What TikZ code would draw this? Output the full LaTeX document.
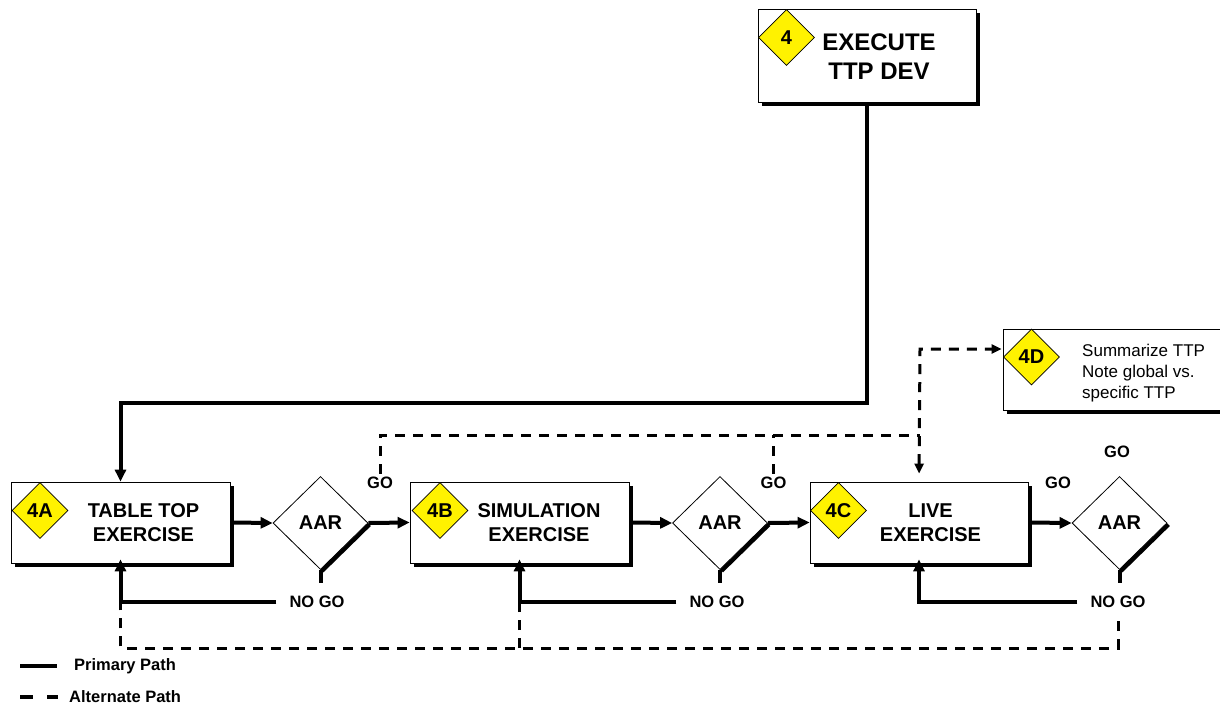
\documentclass[tikz,border=0pt]{standalone}
\usepackage{fontspec}
\setmainfont{Liberation Sans}
\usepackage{tikz}
\usetikzlibrary{shapes.geometric,arrows.meta,positioning,shadows}
\tikzset
{
    stepbox/.style   = {rectangle, draw=black, line width=0.8pt, fill=white, inner sep=0pt, drop shadow={shadow xshift=4pt, shadow yshift=-4pt, fill=black, opacity=1}},
    keynode/.style   = {diamond, draw=black, line width=0.8pt, fill=yellow, inner sep=0pt, minimum size=56pt, font=\fontsize{20}{24}\selectfont\bfseries},
    aarnode/.style   = {diamond, draw=black, line width=0.8pt, fill=white, inner sep=0pt, minimum width=95pt, minimum height=93pt, font=\fontsize{20}{24}\selectfont\bfseries, drop shadow={shadow xshift=3pt, shadow yshift=-3pt, fill=black, opacity=1}},
    steptext/.style  = {align=center, inner sep=0pt, font=\fontsize{20}{24}\selectfont\bfseries},
    notetext/.style  = {align=left, inner sep=0pt, font=\fontsize{17}{21}\selectfont},
    golabel/.style   = {inner sep=3pt, font=\fontsize{16.5}{19}\selectfont\bfseries},
    nogolabel/.style = {inner sep=13pt, font=\fontsize{16.5}{19}\selectfont\bfseries},
    legendtext/.style = {inner sep=0pt, font=\fontsize{16.5}{19}\selectfont\bfseries},
    primarypath/.style = {line width=4pt, >={Triangle[length=12pt,width=11pt]}},
    altpath/.style   = {line width=3pt, dash pattern=on 10pt off 8pt, >={Triangle[length=10pt,width=9pt]}}
}

\begin{document}
\begin{tikzpicture}[x=1pt, y=-1pt]
	\useasboundingbox (0,0) rectangle (1220,706);
	% boxes
	\node[stepbox, minimum width=218pt, minimum height=93pt] (dev) at (867,55.5) {};
	\node[stepbox, minimum width=219pt, minimum height=81pt] (tabletop) at (120.5,522.5) {};
	\node[stepbox, minimum width=219pt, minimum height=81pt] (simulation) at (519.5,522.5) {};
	\node[stepbox, minimum width=218pt, minimum height=81pt] (live) at (919,522.5) {};
	\node[stepbox, minimum width=222pt, minimum height=81pt] (summary) at (1114,369.5) {};
	% box texts
	\node[steptext, font=\fontsize{24}{29}\selectfont\bfseries] (devtxt) at (879,57) {EXECUTE\\TTP DEV};
	\node[steptext] (tabletoptxt) at (143.5,523) {TABLE TOP\\EXERCISE};
	\node[steptext] (simulationtxt) at (539,523) {SIMULATION\\EXERCISE};
	\node[steptext] (livetxt) at (930.5,523) {LIVE\\EXERCISE};
	\node[notetext, anchor=west] (summarytxt) at (1082,373) {Summarize TTP\\Note global vs.\\specific TTP};
	% step keys
	\node[keynode] (keydev) at (786.5,37.5) {4};
	\node[keynode] (keya) at (40,510.5) {4A};
	\node[keynode] (keyb) at (440,510.5) {4B};
	\node[keynode] (keyc) at (838.5,510.5) {4C};
	\node[keynode] (keyd) at (1031.5,357) {4D};
	% reviews
	\node[aarnode] (aarone) at (320.5,523) {AAR};
	\node[aarnode] (aartwo) at (720,523) {AAR};
	\node[aarnode] (aarthree) at (1119.5,523) {AAR};
	% labels
	\node[golabel] (goone) at (380,483) {GO};
	\node[golabel] (gotwo) at (773.5,483) {GO};
	\node[golabel] (gothree) at (1058,483) {GO};
	\node[golabel] (gofour) at (1117,452) {GO};
	\node[nogolabel] (nogoone) at (317,602) {NO GO};
	\node[nogolabel] (nogotwo) at (717,602) {NO GO};
	\node[nogolabel] (nogothree) at (1118,602) {NO GO};
	% helper points
	\coordinate (bend) at (0,403);
	\coordinate (altjoin) at (920,435);
	\coordinate (altsplit) at (920,349);
	\coordinate (altbase) at (0,648);
	% primary path
	\draw[primarypath,->] (dev.south) -- (dev.south |- bend) -| (tabletop.north);
	\draw[primarypath,->] (tabletop.east) -- (aarone.west);
	\draw[primarypath,->] (aarone.east) -- (simulation.west);
	\draw[primarypath,->] (simulation.east) -- (aartwo.west);
	\draw[primarypath,->] (aartwo.east) -- (live.west);
	\draw[primarypath,->] (live.east) -- (aarthree.west);
	\draw[primarypath] (aarone.south) -- (aarone.south |- nogoone.north);
	\draw[primarypath] (aartwo.south) -- (aartwo.south |- nogotwo.north);
	\draw[primarypath] (aarthree.south) -- (aarthree.south |- nogothree.north);
	\draw[primarypath,->,shorten >=-4pt] (nogoone.west) -| (tabletop.south);
	\draw[primarypath,->,shorten >=-4pt] (nogotwo.west) -| (simulation.south);
	\draw[primarypath,->,shorten >=-4pt] (nogothree.west) -| (live.south);
	% alternate path
	\draw[altpath] (goone.north) |- (altjoin);
	\draw[altpath] (gotwo.north) -- (gotwo.north |- altjoin);
	\draw[altpath,<->,shorten <=8pt,shorten >=1pt] (live.north) -- (altsplit) -- (altsplit -| summary.west);
	\draw[altpath] (nogothree.south) |- (altbase -| tabletop.south) -- (tabletop.south |- nogoone.west);
	\draw[altpath] (simulation.south |- altbase) -- (simulation.south |- nogotwo.west);
	% legend
	\coordinate (primstart) at (20,666);
	\coordinate (primend) at (57,666);
	\coordinate (altstart) at (20,697);
	\coordinate (altend) at (58,697);
	\draw[line width=4pt] (primstart) -- (primend);
	\draw[line width=4pt, dash pattern=on 13pt off 14pt] (altstart) -- (altend);
	\node[legendtext, right=17pt of primend] (primlabel) {Primary Path};
	\node[legendtext, right=11pt of altend] (altlabel) {Alternate Path};
\end{tikzpicture}
\end{document}
